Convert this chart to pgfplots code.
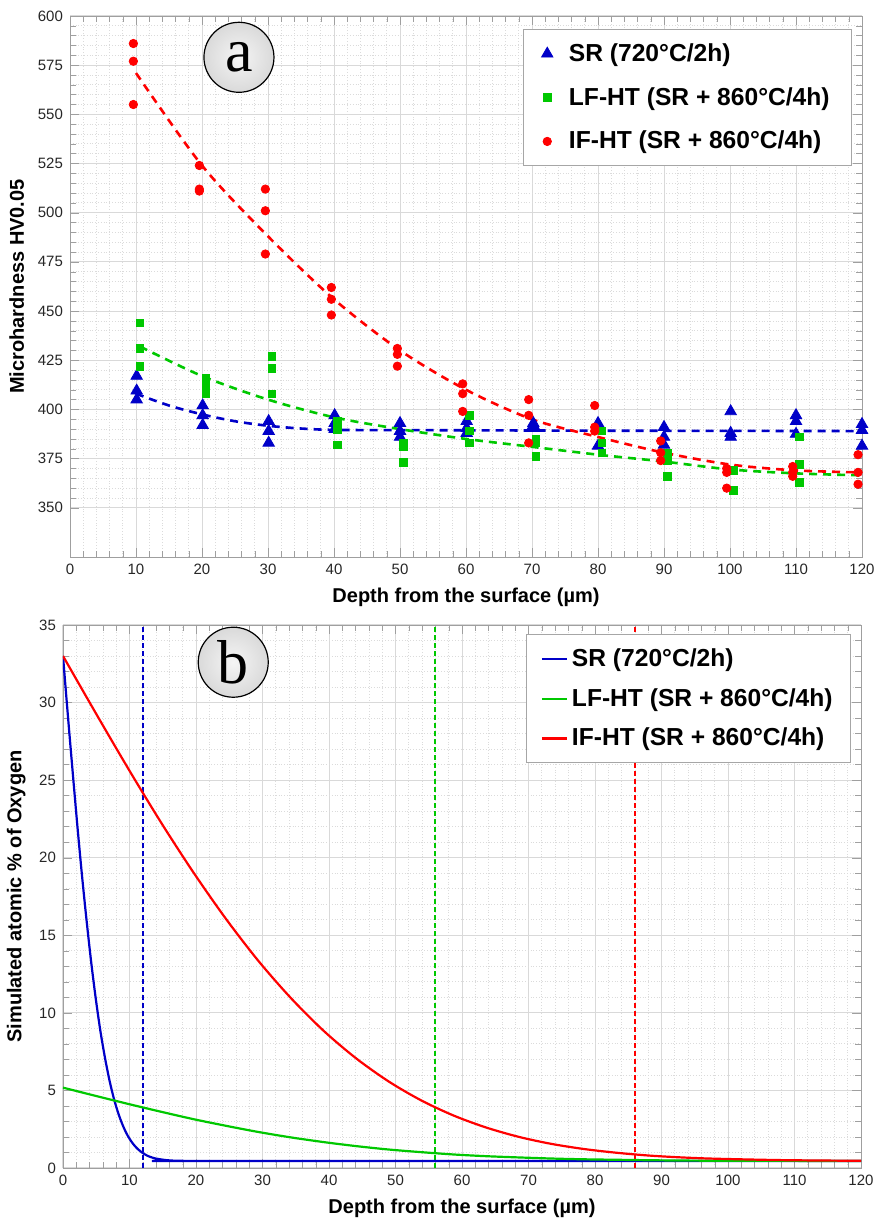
\documentclass[border=0pt]{standalone}
\usepackage{pgfplots}
\pgfplotsset{compat=1.18}
\usepackage{fontspec}
\setmainfont{Liberation Sans}
\newfontfamily\letterfont{Liberation Serif}

\definecolor{srblue}{RGB}{0,0,200}
\definecolor{lfgreen}{RGB}{0,200,0}
\definecolor{ifred}{RGB}{255,0,0}
\pgfdeclareradialshading{ball}{\pgfpoint{0bp}{0bp}}{color(0bp)=(white!96!black); color(28bp)=(white!84!black); color(50bp)=(white!62!black)}

% measured hardness, three indents per depth
\pgfplotstableread{
x y
10.1 417
10.1 409.5
10.1 405
20.1 402
20.1 397
20.1 392
30.1 394
30.1 389
30.1 383
40.1 397
40.1 393
40.1 390
50 393
50 389
50 386
60.1 394
60.1 390.5
60.1 388
70.2 393
70.2 392
70.2 390.5
80 393
80 390
80 381.5
90 391
90 386
90 382
100.1 399
100.1 388
100.1 386
110 397
110 394
110 387.5
120 392.5
120 389.5
120 381.5
}\srpts

\pgfplotstableread{
x y
10.6 444
10.6 431
10.6 422
20.6 416
20.6 413
20.6 410
20.6 408
30.6 427
30.6 421
30.6 408
40.5 394
40.5 392
40.5 390
40.5 382
50.5 383
50.5 381
50.5 373
60.5 397
60.5 389
60.5 383
70.6 385
70.6 383
70.6 376
80.6 389
80.6 383
80.6 378
90.5 378
90.5 374
90.5 366
100.5 369
100.5 359
110.5 386
110.5 372
110.5 363
}\lfpts

\pgfplotstableread{
x y
9.6 586
9.6 577
9.6 555
19.6 524
19.6 512
19.6 511
29.6 512
29.6 501
29.6 479
39.6 462
39.6 456
39.6 448
49.6 431
49.6 428
49.6 422
59.5 413
59.5 408
59.5 399
69.5 405
69.5 397
69.5 383
79.5 402
79.5 391
79.5 389
89.5 384
89.5 378
89.5 374
99.5 370
99.5 368
99.5 360
109.5 371
109.5 368
109.5 366
119.4 377
119.4 368
119.4 362
}\ifpts

% trend lines
\pgfplotstableread{
x y
10 408
15 402
20 397.5
25 394
30 391.7
35 390.3
40 389.6
50 389.5
60 389.4
80 389.2
100 389.1
120 389
}\srfit

\pgfplotstableread{
x y
10.6 432
20 417
30 405
40 396
50 390
60 385
70 381
80 377
90 373.5
100 369.5
110 367.5
120 366.5
}\lffit

\pgfplotstableread{
x y
10 571
20 524
30 488
40 456
50 430
60 410
70 395
80 386
90 378
100 372
110 369
120 368
}\iffit

% simulated oxygen profiles
\pgfplotstableread{
x y
0 33.00
0.70 29.34
1.41 25.75
2.11 22.30
2.81 19.06
3.52 16.06
4.22 13.34
4.92 10.94
5.62 8.84
6.33 7.06
7.03 5.57
7.73 4.35
8.44 3.37
9.14 2.60
9.84 2.00
10.55 1.55
11.25 1.22
11.95 0.98
12.65 0.80
13.36 0.68
14.06 0.60
15.47 0.51
16.87 0.47
18.28 0.46
20 0.45
120 0.45
}\srsim

\pgfplotstableread{
x y
0 5.18
4.9 4.65
9.8 4.13
14.7 3.63
19.6 3.15
24.5 2.72
29.4 2.32
34.3 1.97
39.2 1.67
44.1 1.41
49 1.19
53.9 1.02
58.8 0.87
63.7 0.76
68.6 0.68
73.5 0.61
78.4 0.56
83.3 0.53
88.2 0.50
93.1 0.48
98 0.47
107.8 0.46
120 0.45
}\lfsim

\pgfplotstableread{
x y
0 33.00
4.9 29.34
9.8 25.75
14.7 22.30
19.6 19.06
24.5 16.06
29.4 13.34
34.3 10.94
39.2 8.84
44.1 7.06
49 5.57
53.9 4.35
58.8 3.37
63.7 2.60
68.6 2.00
73.5 1.55
78.4 1.22
83.3 0.98
88.2 0.80
93.1 0.68
98 0.60
107.8 0.51
117.6 0.47
120 0.47
}\ifsim

\pgfplotsset{
  common/.style={
    scale only axis,
    xmin=0, xmax=120,
    xtick={0,10,...,120},
    minor x tick num=4,
    grid=both,
    major grid style={gray!30, line width=0.5pt},
    minor grid style={gray!28, densely dotted, line width=0.4pt},
    axis line style={gray!75},
    tick style={gray!75},
    tick align=inside,
    ticklabel style={font=\fontsize{7.5}{9}\selectfont, text=black!85},
    /pgf/number format/assume math mode=true,
    label style={font=\bfseries\fontsize{10}{12}\selectfont},
    xlabel={Depth from the surface (µm)},
    legend cell align=left,
    legend style={font=\bfseries\fontsize{12.3}{14.5}\selectfont,
      draw=gray!70, fill=white, row sep=6.5pt, inner xsep=7pt, inner ysep=5pt},
  },
  fitline/.style={dash pattern=on 4pt off 3pt, line width=1.3pt, smooth, forget plot},
  guide/.style={line width=1pt, dash pattern=on 2.5pt off 1.5pt, forget plot},
}
\tikzset{
  tag/.style={circle, draw=black, line width=0.6pt, minimum size=35pt, inner sep=0pt,
    shading=ball, font=\letterfont\fontsize{31}{31}\selectfont},
}

\begin{document}
\begin{tikzpicture}
\path[use as bounding box] (0,0) rectangle (439pt,610pt);

\begin{axis}[common,
  at={(35pt,331.5pt)}, anchor=south west,
  width=396pt, height=270.5pt,
  ymin=325, ymax=600,
  ytick={350,375,...,600},
  minor y tick num=4,
  ylabel={Microhardness HV0.05},
  legend style={at={(0.9874,0.976)}, anchor=north east, row sep=7.5pt, inner xsep=9pt,
    /tikz/every odd column/.append style={column sep=6pt}},
]
\addplot[fitline, srblue] table {\srfit};
\addplot[fitline, lfgreen] table {\lffit};
\addplot[fitline, ifred] table {\iffit};
\addplot[only marks, mark=triangle*, mark size=3.3pt, color=srblue] table {\srpts};
\addlegendentry{SR (720°C/2h)}
\addplot[only marks, mark=square*, mark size=1.9pt, color=lfgreen] table {\lfpts};
\addlegendentry{LF-HT (SR + 860°C/4h)}
\addplot[only marks, mark=*, mark size=2.1pt, color=ifred] table {\ifpts};
\addlegendentry{IF-HT (SR + 860°C/4h)}
\node[tag] at (axis cs:25.6,579) {a};
\end{axis}

\begin{axis}[common,
  at={(31.5pt,26pt)}, anchor=south west,
  width=399pt, height=271.5pt,
  ymin=0, ymax=35,
  ytick={0,5,...,35},
  minor y tick num=4,
  ylabel={Simulated atomic \% of Oxygen},
  legend style={at={(0.9875,0.9834)}, anchor=north east, row sep=5.5pt},
  legend image code/.code={\draw[#1, line width=1.1pt] (0pt,0pt) -- (12.5pt,0pt);},
]
\addplot[guide, srblue] coordinates {(12,0) (12,35)};
\addplot[guide, lfgreen] coordinates {(56,0) (56,35)};
\addplot[guide, ifred] coordinates {(86,0) (86,35)};
\addplot[srblue, line width=1.1pt, smooth] table {\srsim};
\addlegendentry{SR (720°C/2h)}
\addplot[lfgreen, line width=1.1pt, smooth] table {\lfsim};
\addlegendentry{LF-HT (SR + 860°C/4h)}
\addplot[ifred, line width=1.1pt, smooth] table {\ifsim};
\addlegendentry{IF-HT (SR + 860°C/4h)}
\node[tag] at (axis cs:25.6,32.6) {b};
\end{axis}
\end{tikzpicture}
\end{document}
